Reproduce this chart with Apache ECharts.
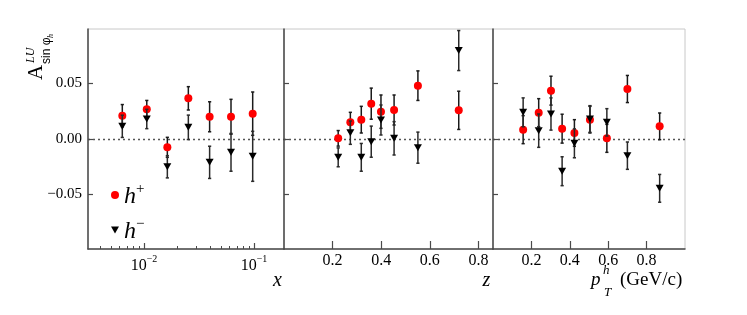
<!DOCTYPE html>
<html>
<head>
<meta charset="utf-8">
<script src="https://cdn.jsdelivr.net/npm/echarts@6/dist/echarts.min.js"></script>
<style>html,body{margin:0;padding:0;background:#fff}#c{width:747px;height:315px}</style>
</head>
<body>
<div id="c"></div>
<script>
// ---- data: x panel ----
const xBins   = [0.00635, 0.0106, 0.0163, 0.0253, 0.0395, 0.0618, 0.0973];
const xHp     = [0.0210, 0.0267, -0.0075, 0.0366, 0.0200, 0.0200, 0.0228];
const xHpErr  = [0.0100, 0.0080, 0.0090, 0.0105, 0.0135, 0.0157, 0.0195];
const xHm     = [0.0114, 0.0180, -0.0250, 0.0105, -0.0210, -0.0120, -0.0156];
const xHmErr  = [0.0100, 0.0087, 0.0100, 0.0110, 0.0145, 0.0170, 0.0225];
// ---- data: z panel ----
const zBins   = [0.223, 0.273, 0.318, 0.359, 0.399, 0.453, 0.551, 0.719];
const zHp     = [0.0006, 0.0150, 0.0174, 0.0318, 0.0246, 0.0261, 0.0480, 0.0258];
const zHpErr  = [0.0070, 0.0090, 0.0120, 0.0140, 0.0150, 0.0135, 0.0133, 0.0172];
const zHm     = [-0.0165, 0.0057, -0.0165, -0.0024, 0.0171, 0.0006, -0.0078, 0.0796];
const zHmErr  = [0.0085, 0.0105, 0.0125, 0.0140, 0.0135, 0.0150, 0.0140, 0.0180];
// ---- data: pT panel ----
const ptBins  = [0.157, 0.238, 0.302, 0.360, 0.424, 0.505, 0.593, 0.700, 0.868];
const ptHp    = [0.0084, 0.0237, 0.0435, 0.0093, 0.0054, 0.0174, 0.0006, 0.0450, 0.0114];
const ptHpErr = [0.0126, 0.0126, 0.0130, 0.0130, 0.0120, 0.0120, 0.0126, 0.0122, 0.0120];
const ptHm    = [0.0240, 0.0075, 0.0225, -0.0290, -0.0039, 0.0180, 0.0150, -0.0150, -0.0444];
const ptHmErr = [0.0130, 0.0150, 0.0145, 0.0130, 0.0130, 0.0120, 0.0123, 0.0123, 0.0125];
// ---- tick values ----
const yTicks = [-0.05, 0, 0.05];
const xMajorTicks = [0.01, 0.1];
const xMinorTicks = [0.004,0.005,0.006,0.007,0.008,0.009,0.02,0.03,0.04,0.05,0.06,0.07,0.08,0.09];
const linTicks = [0.2, 0.4, 0.6, 0.8];
const hpName = 'h+', hmName = 'h\u2212';

const SERIF = 'Liberation Serif';
const AX = '#4a4a4a';
const TRI = 'path://M0,0L10,0L5,9Z';

const chart = echarts.init(document.getElementById('c'), null, {renderer: 'canvas'});

const grids = [
  {left: 88, top: 29, width: 196, height: 220},
  {left: 284, top: 29, width: 209, height: 220},
  {left: 493, top: 29, width: 192, height: 220}
].map(g => Object.assign(g, {show: true, borderColor: '#c8c8c8', borderWidth: 1, backgroundColor: 'transparent', containLabel: false, outerBoundsMode: 'none'}));

function yAxis(i) {
  return {
    type: 'value', gridIndex: i, min: -0.099, max: 0.099,
    axisLine: {show: true, onZero: false, lineStyle: {color: AX, width: 1.5}},
    axisTick: {show: true, inside: true, length: 5, customValues: yTicks, lineStyle: {color: AX, width: 1.2}},
    axisLabel: {show: i === 0, customValues: yTicks, margin: 6, fontFamily: SERIF, fontSize: 15, color: '#000',
      formatter: v => (v < 0 ? '\u2212' : '') + Math.abs(v).toFixed(2)},
    splitLine: {show: false}
  };
}
function linX(i, max) {
  return {
    type: 'value', gridIndex: i, min: 0, max: max, position: 'bottom',
    axisLine: {show: true, onZero: false, lineStyle: {color: AX, width: 1.5}},
    axisTick: {show: true, inside: true, length: 8, customValues: linTicks, lineStyle: {color: AX, width: 1.2}},
    axisLabel: {show: true, customValues: linTicks, margin: 4, fontFamily: SERIF, fontSize: 16, color: '#000',
      formatter: v => v.toFixed(1)},
    splitLine: {show: false}
  };
}
const xMin = 0.003097, xMax = 0.1874;
const xAxes = [
  {
    type: 'log', gridIndex: 0, min: xMin, max: xMax, logBase: 10, position: 'bottom',
    axisLine: {show: true, onZero: false, lineStyle: {color: AX, width: 1.5}},
    axisTick: {show: true, inside: true, length: 6, customValues: xMajorTicks, lineStyle: {color: AX, width: 1.2}},
    axisLabel: {show: true, customValues: xMajorTicks, margin: 5, color: '#000',
      formatter: v => { const p = Math.round(Math.log10(v)); return '{b|10}{s|' + (p < 0 ? '\u2212' : '') + Math.abs(p) + '}'; },
      rich: {
        b: {fontFamily: SERIF, fontSize: 16, lineHeight: 20, verticalAlign: 'bottom', color: '#000'},
        s: {fontFamily: SERIF, fontSize: 10, lineHeight: 13, verticalAlign: 'top', color: '#000'}
      }},
    splitLine: {show: false}
  },
  {
    type: 'log', gridIndex: 0, min: xMin, max: xMax, logBase: 10, position: 'bottom', offset: 0,
    axisLine: {show: false, onZero: false},
    axisTick: {show: true, inside: true, length: 3, customValues: xMinorTicks, lineStyle: {color: AX, width: 1}},
    axisLabel: {show: false},
    splitLine: {show: false}
  },
  linX(1, 0.86),
  linX(2, 1.0)
];

function pts(xs, ys) { return xs.map((x, i) => [x, ys[i]]); }
function errs(xs, ys, es) { return xs.map((x, i) => [x, ys[i], es[i]]); }

function errRender(color) {
  return function (params, api) {
    const x = api.value(0), y = api.value(1), e = api.value(2);
    const t = api.coord([x, y + e]);
    const b = api.coord([x, y - e]);
    const c = 1.6;
    const st = {stroke: color, lineWidth: 1.5};
    return {type: 'group', children: [
      {type: 'line', shape: {x1: t[0], y1: t[1], x2: b[0], y2: b[1]}, style: st},
      {type: 'line', shape: {x1: t[0] - c, y1: t[1], x2: t[0] + c, y2: t[1]}, style: st},
      {type: 'line', shape: {x1: b[0] - c, y1: b[1], x2: b[0] + c, y2: b[1]}, style: st}
    ]};
  };
}

const panels = [
  {xi: 0, yi: 0, bins: xBins, hp: xHp, hpe: xHpErr, hm: xHm, hme: xHmErr},
  {xi: 2, yi: 1, bins: zBins, hp: zHp, hpe: zHpErr, hm: zHm, hme: zHmErr},
  {xi: 3, yi: 2, bins: ptBins, hp: ptHp, hpe: ptHpErr, hm: ptHm, hme: ptHmErr}
];
const series = [];
panels.forEach(p => {
  series.push({
    type: 'custom', xAxisIndex: p.xi, yAxisIndex: p.yi, z: 1, silent: true,
    renderItem: errRender('#1a1a1a'), encode: {x: 0, y: 1},
    data: errs(p.bins, p.hp, p.hpe),
    markLine: {silent: true, symbol: 'none', label: {show: false}, z: 0,
      lineStyle: {type: [2, 3], color: '#555', width: 1.3}, data: [{yAxis: 0}]}
  });
  series.push({
    name: hpName, type: 'scatter', xAxisIndex: p.xi, yAxisIndex: p.yi, z: 2,
    symbol: 'circle', symbolSize: 8, itemStyle: {color: '#ff0000', opacity: 1},
    data: pts(p.bins, p.hp)
  });
  series.push({
    type: 'custom', xAxisIndex: p.xi, yAxisIndex: p.yi, z: 3, silent: true,
    renderItem: errRender('#2a2a2a'), encode: {x: 0, y: 1},
    data: errs(p.bins, p.hm, p.hme)
  });
  series.push({
    name: hmName, type: 'scatter', xAxisIndex: p.xi, yAxisIndex: p.yi, z: 4,
    symbol: TRI, symbolSize: [8, 7], itemStyle: {color: '#000', opacity: 1},
    data: pts(p.bins, p.hm)
  });
});

function txt(text, x, y, opt) {
  return Object.assign({
    type: 'text', x: x, y: y, silent: true,
    style: Object.assign({text: text, fill: '#000', fontFamily: SERIF, fontSize: 20, align: 'left', verticalAlign: 'middle'}, opt.style || {})
  }, opt.el || {});
}
const R = Math.PI / 2;
const graphics = [
  // y axis title (rotated)
  txt('A', 36.5, 80, {style: {fontSize: 21}, el: {rotation: R}}),
  txt('LU', 30.5, 63, {style: {fontSize: 12, fontStyle: 'italic'}, el: {rotation: R}}),
  txt('sin \u03c6', 47, 64, {style: {fontSize: 12, fontFamily: 'Liberation Sans'}, el: {rotation: R}}),
  txt('h', 50.5, 38, {style: {fontSize: 8, fontStyle: 'italic'}, el: {rotation: R}}),
  // axis names
  txt('x', 277.5, 280.5, {style: {fontStyle: 'italic', align: 'center'}}),
  txt('z', 486.5, 281, {style: {fontStyle: 'italic', align: 'center'}}),
  txt('p', 591, 280, {style: {fontStyle: 'italic', fontSize: 19}}),
  txt('h', 603, 270.5, {style: {fontStyle: 'italic', fontSize: 13}}),
  txt('T', 604, 292.5, {style: {fontStyle: 'italic', fontSize: 13}}),
  txt('(GeV/c)', 620, 280, {style: {fontSize: 19}})
];

chart.setOption({
  animation: false,
  backgroundColor: '#fff',
  grid: grids,
  xAxis: xAxes,
  yAxis: [yAxis(0), yAxis(1), yAxis(2)],
  legend: {
    orient: 'vertical', left: 111, top: 181.5, itemWidth: 8, itemHeight: 8, itemGap: 8,
    selectedMode: false, padding: 0,
    data: [{name: hpName, icon: 'circle'}, {name: hmName, icon: TRI}],
    formatter: n => n === hpName ? '{h|h}{s|+}' : '{h|h}{s|\u2212}',
    textStyle: {rich: {
      h: {fontFamily: SERIF, fontStyle: 'italic', fontSize: 24, lineHeight: 27, verticalAlign: 'bottom', color: '#000'},
      s: {fontFamily: SERIF, fontSize: 15, lineHeight: 15, verticalAlign: 'top', color: '#000'}
    }}
  },
  series: series,
  graphic: graphics
});
</script>
</body>
</html>
